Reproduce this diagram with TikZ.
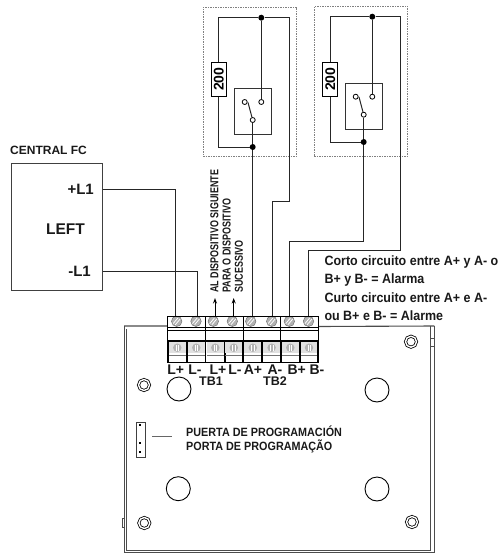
\documentclass[tikz,border=0pt]{standalone}
\usepackage{fontspec}
\setmainfont{Liberation Sans}
\newfontfamily\cndA[FakeStretch=0.925]{Liberation Sans}
\newfontfamily\cndB[FakeStretch=0.9]{Liberation Sans}
\newfontfamily\cndC[FakeStretch=0.78]{Liberation Sans}
\usetikzlibrary{arrows.meta}
\tikzset{
  wire/.style={draw=black!85,line width=1pt},
  dashbox/.style={draw=black!50,dash pattern=on 1.5pt off 1pt,line width=0.9pt,fill=white},
  dotj/.style={circle,fill=black,inner sep=0pt,minimum size=6pt},
  contact/.style={circle,draw=black,fill=white,line width=0.8pt,inner sep=0pt,minimum size=5pt},
  res/.style={draw=black,fill=white,line width=0.9pt,minimum width=15pt,minimum height=34.5pt,inner sep=0pt},
  sw/.style={draw=black!80,line width=0.9pt,inner sep=0pt},
  lab/.style={font=\bfseries\fontsize{#1}{#1}\selectfont,inner sep=0pt,text=black!90},
  lab/.default=10,
  board/.style={draw=black!70,line width=0.9pt},
  hole/.style={circle,draw=black,line width=0.9pt,minimum size=24pt,inner sep=0pt},
  mount/.style={circle,draw=black,line width=0.8pt,double=white,double distance=1.4pt,minimum size=11pt,inner sep=0pt},
  screw/.style={circle,draw=black!55,fill=black!30,line width=0.5pt,minimum size=10.5pt,inner sep=0pt},
  up/.style={-{Stealth[length=5.5pt,width=4pt]},draw=black,line width=1pt}
}
\begin{document}
\begin{tikzpicture}[x=1pt,y=-1pt]
\useasboundingbox (0,0) rectangle (500,554);
% dashed device boxes
\node[dashbox,minimum width=93.3pt,minimum height=149.3pt,anchor=north west,inner sep=0pt] (dev1) at (202.7,6.7) {};
\node[dashbox,minimum width=93.3pt,minimum height=150.3pt,anchor=north west,inner sep=0pt] (dev2) at (313.7,5.7) {};
% board
\coordinate (bTL) at (124,326); \coordinate (bTR) at (434.3,326);
\coordinate (bBL) at (124,552.3); \coordinate (bBR) at (434.3,552.3);
\draw[board] (bTL) -- (bBL) -- (bBR) -- (bTR);
\draw[board] (126.7,329) -- (126.7,550.5) (430,326) -- (430,550.5) (126.7,550.5) -- (430,550.5);
\draw[board,line width=1.1pt] (bTL) -- (167,326) (318,326.5) -- (bTR);
\draw[board] (122,518) rectangle (124,527);
\draw[board] (430.5,338) rectangle (434,346);
% central
\node[draw=black!75,line width=0.9pt,minimum width=91pt,minimum height=126.7pt,anchor=north west,inner sep=0pt] (cfc) at (11,163.3) {};
\node[lab=12,anchor=west] (cfct) at (10,150.7) {CENTRAL FC};
\node[lab=15,anchor=east] (pl1) at (94,189) {+L1};
\node[lab=15.5,anchor=center] (left) at (65.5,229) {LEFT};
\node[lab=15,anchor=east] (ml1) at (91,271.7) {-L1};
% terminal block
\foreach \n/\x in {s1/176.7,s2/196,s3/213.3,s4/232.3,s5/250.7,s6/271.7,s7/289.3,s8/308.5}{
  \node[screw] (\n) at (\x,321.3) {};
  \draw[white,line width=0.8pt] (\x-3.6,323.6) -- (\x+1,318.2) (\x-1.4,324.8) -- (\x+3.4,319);
}
\draw[black,line width=0.8pt] (167.3,316.3) rectangle (318.3,362);
\draw[black,line width=0.8pt] (167.3,327) -- (318.3,327);
\draw[black,line width=0.8pt] (167.3,330) -- (318.3,330);
\draw[black,line width=1.4pt] (167.3,341) -- (318.3,341);
\foreach \x in {205.5,243.3,280.7}{\draw[black,line width=1.1pt] (\x,316.3) -- (\x,362);}
\foreach \x in {187,224.8,262.3,299.8,168,205.5,243.3,280.7,318.3}{\draw[black,line width=1.7pt] (\x,341) -- (\x,362);}
\foreach \x in {177.3,196.3,215.3,233.8,252.8,271.6,290.3,309}{
  \fill[black!12] (\x-8.4,342.2) rectangle (\x+8.4,353);
  \draw[black!55,line width=0.5pt] (\x-8.4,355.5) -- (\x+8.4,355.5);
  \fill[black!30] (\x,347.7) circle (4.2pt);
  \draw[white,line width=0.4pt] (\x-1.2,344.5) -- (\x-1.2,351) (\x+1.2,344.5) -- (\x+1.2,351);
}
\foreach \t/\x in {L+/175.7,L-/195,L+/218,L-/235,A+/253,A-/275,B+/296.7,B-/317}{
  \node[lab=14] at (\x,369.5) {\t};
}
\node[lab=12.5] (tb1) at (211,381.5) {TB1};
\node[lab=12.5] (tb2) at (275,381.5) {TB2};
% holes
\node[hole] (h1) at (179,389) {};
\node[hole] (h2) at (178.3,488.7) {};
\node[hole] (h3) at (377,390) {};
\node[hole] (h4) at (377,489) {};
\node[mount] (m1) at (144,385) {};
\node[mount] (m2) at (144.3,523) {};
\node[mount] (m3) at (411,341.7) {};
\node[mount] (m4) at (412,522) {};
% programming port
\node[draw=black!75,line width=0.8pt,minimum width=9pt,minimum height=35.6pt,inner sep=0pt,anchor=north west] (port) at (135.7,421.7) {};
\foreach \y in {425,443,452}{\fill[black] (139.2,\y-1) rectangle (141.2,\y+1);}
\coordinate (pa) at (152.3,436.7); \coordinate (pb) at (172.3,436.7);
\draw[black!60,line width=0.6pt] (pa) -- (pb);
\node[lab=12,anchor=west] (pt1) at (186,431) {\cndB PUERTA DE PROGRAMACIÓN};
\node[lab=12,anchor=west] (pt2) at (186,446.7) {\cndB PORTA DE PROGRAMAÇÃO};
% alarm text
\node[lab=13.5,anchor=west] (al1) at (324.3,261.7) {\cndA Corto circuito entre A+ y A- o};
\node[lab=13.5,anchor=west] (al2) at (324.3,280) {\cndA B+ y B- = Alarma};
\node[lab=13.5,anchor=west] (al3) at (324.3,298) {\cndA Curto circuito entre A+ e A-};
\node[lab=13.5,anchor=west] (al4) at (324.3,315.3) {\cndA ou B+ e B- = Alarme};
% rotated text
\node[lab=11.5,rotate=90,anchor=west] (r1) at (214.3,292.7) {\cndC AL DISPOSITIVO SIGUIENTE};
\node[lab=11.5,rotate=90,anchor=west] (r2) at (226.7,292.7) {\cndC PARA O DISPOSITIVO};
\node[lab=11.5,rotate=90,anchor=west] (r3) at (239,292.7) {\cndC SUCESSIVO};
% device 1
\node[sw,minimum width=36.7pt,minimum height=46.3pt,draw,anchor=north west,fill=white] (box1) at (234.3,88) {};
\node[res] (res1) at (218.8,79.3) {\rotatebox{90}{\bfseries\fontsize{14}{14}\selectfont 200}};
\node[dotj] (top1) at (261.3,17.7) {};
\node[dotj] (bot1) at (252.7,147) {};
\node[contact] (c1a) at (244.7,102) {};
\node[contact] (c1b) at (261.3,102) {};
\node[contact] (c1c) at (252.7,120) {};
\draw[wire] (c1c) -- (248,102.5);
\draw[wire] (top1) -- (c1b);
\draw[wire] (c1c) -- (bot1);
\draw[wire] (res1.north) -- (res1.north |- top1) -- (top1);
\draw[wire] (res1.south) -- (res1.south |- bot1) -- (bot1);
\coordinate (k1) at (289.3,17.7);
\draw[wire] (top1) -- (k1) -- (289.3,201) -- (272.3,201) -- (s6.north -| 272.3,316);
\draw[wire] (bot1) -- (s5.north -| bot1);
% device 2
\node[sw,minimum width=36.7pt,minimum height=46.3pt,draw,anchor=north west,fill=white] (box2) at (345.3,82.7) {};
\node[res] (res2) at (330.3,79.3) {\rotatebox{90}{\bfseries\fontsize{14}{14}\selectfont 200}};
\node[dotj] (top2) at (372.3,16.7) {};
\node[dotj] (bot2) at (363.7,142) {};
\node[contact] (c2a) at (355.7,96.7) {};
\node[contact] (c2b) at (372.3,96.7) {};
\node[contact] (c2c) at (363.7,114.7) {};
\draw[wire] (c2c) -- (359,97);
\draw[wire] (top2) -- (c2b);
\draw[wire] (c2c) -- (bot2);
\draw[wire] (res2.north) -- (res2.north |- top2) -- (top2);
\draw[wire] (res2.south) -- (res2.south |- bot2) -- (bot2);
\draw[wire] (top2) -- (400.7,16.7) -- (400.7,250.7) -- (308.5,250.7) -- (s8.north);
\draw[wire] (bot2) -- (363.7,241.3) -- (289.3,241.3) -- (s7.north);
% central wires
\draw[wire] (cfc.east |- pl1) -- (175.7,189) -- (s1.north -| 175.7,316);
\draw[wire] (cfc.east |- ml1) -- (197.3,271.7) -- (s2.north -| 197.3,316);
\coordinate (a1) at (215,298); \coordinate (a2) at (233.7,298);
\draw[up] (s3.north -| a1) -- (a1);
\draw[up] (s4.north -| a2) -- (a2);
\end{tikzpicture}
\end{document}
